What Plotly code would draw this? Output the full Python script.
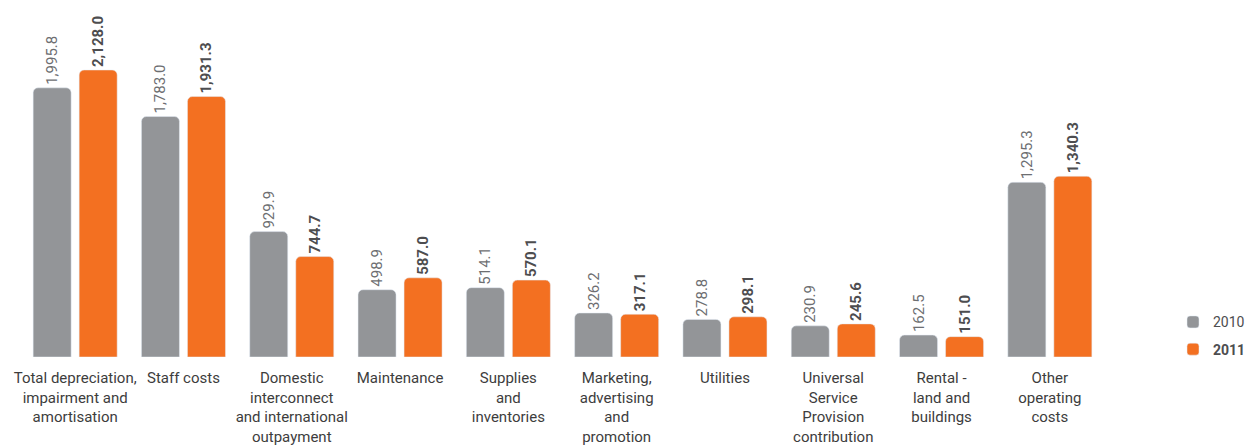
import plotly.graph_objects as go

categories = [
    "Total depreciation,<br>impairment and<br>amortisation",
    "Staff costs",
    "Domestic<br>interconnect<br>and international<br>outpayment",
    "Maintenance",
    "Supplies<br>and<br>inventories",
    "Marketing,<br>advertising<br>and<br>promotion",
    "Utilities",
    "Universal<br>Service<br>Provision<br>contribution",
    "Rental -<br>land and<br>buildings",
    "Other<br>operating<br>costs",
]
values_2010 = [1995.8, 1783.0, 929.9, 498.9, 514.1, 326.2, 278.8, 230.9, 162.5, 1295.3]
values_2011 = [2128.0, 1931.3, 744.7, 587.0, 570.1, 317.1, 298.1, 245.6, 151.0, 1340.3]

GRAY = "#939598"
ORANGE = "#F37021"
FONT = "Roboto"

fig = go.Figure()
fig.add_trace(go.Bar(
    x=categories, y=values_2010, name="2010", marker_color=GRAY,
    texttemplate="%{y:,.1f}", textposition="outside", textangle=-90,
    textfont=dict(family=FONT, size=15, color="#6d6e71"),
    cliponaxis=False, constraintext="none", legendgroup="a",
))
fig.add_trace(go.Bar(
    x=categories, y=values_2011, name="<b>2011</b>", marker_color=ORANGE,
    texttemplate="<b>%{y:,.1f}</b>", textposition="outside", textangle=-90,
    textfont=dict(family=FONT, size=15, color="#4d4d4f"),
    cliponaxis=False, constraintext="none", legendgroup="b",
))

fig.update_layout(
    width=1247, height=445,
    margin=dict(l=21, r=143, t=10, b=88, autoexpand=False),
    paper_bgcolor="white", plot_bgcolor="white",
    barmode="group", bargap=0.15, bargroupgap=0.174,
    barcornerradius=5,
    font=dict(family=FONT, size=15, color="#3d3d3d"),
    showlegend=True,
    legend=dict(x=1.0 + 69 / 1083, xanchor="left", y=-0.024, yanchor="bottom",
                font=dict(family=FONT, size=14, color="#4d4d4f"),
                traceorder="grouped", tracegroupgap=6,
                bgcolor="rgba(0,0,0,0)"),
    xaxis=dict(showline=False, showgrid=False, ticks="", tickangle=0,
               tickfont=dict(family=FONT, size=15, color="#3d3d3d"),
               ticklabelstandoff=10, automargin=False),
    yaxis=dict(range=[0, 2573], visible=False, showgrid=False, zeroline=False,
               automargin=False),
)

fig.write_html("out.html")
